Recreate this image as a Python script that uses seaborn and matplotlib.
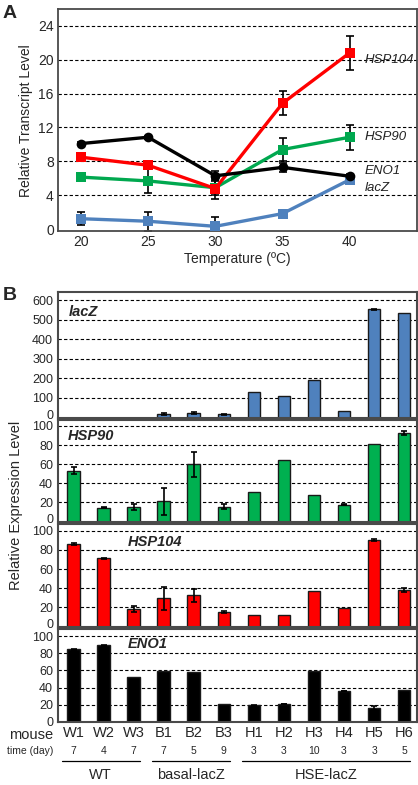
import matplotlib
matplotlib.use("Agg")
import matplotlib.pyplot as plt
import matplotlib.transforms as mtransforms
import seaborn as sns
import numpy as np
import pandas as pd

sns.set_style("white")
plt.rcParams['font.family'] = ['Liberation Sans', 'DejaVu Sans']

# ---- panel A data: transcript level vs temperature
temps = [20, 25, 30, 35, 40]
genes_a = ['lacZ', 'HSP90', 'HSP104', 'ENO1']
lacz_a = [1.25, 0.95, 0.35, 1.85, 5.85]
lacz_a_err = [0.8, 1.1, 1.1, 0.3, 0.3]
hsp90_a = [6.15, 5.7, 4.9, 9.4, 10.85]
hsp90_a_err = [0.3, 1.4, 0.9, 1.3, 1.45]
hsp104_a = [8.5, 7.55, 4.8, 14.85, 20.8]
hsp104_a_err = [0.3, 0.4, 1.2, 1.4, 2.0]
eno1_a = [10.1, 10.85, 6.3, 7.3, 6.25]
eno1_a_err = [0.2, 0.2, 0.6, 0.5, 0.3]

# ---- panel B data: expression per mouse
mice = ['W1', 'W2', 'W3', 'B1', 'B2', 'B3', 'H1', 'H2', 'H3', 'H4', 'H5', 'H6']
days = ['7', '4', '7', '7', '5', '9', '3', '3', '10', '3', '3', '5']
groups = ['WT', 'WT', 'WT', 'basal-lacZ', 'basal-lacZ', 'basal-lacZ',
          'HSE-lacZ', 'HSE-lacZ', 'HSE-lacZ', 'HSE-lacZ', 'HSE-lacZ', 'HSE-lacZ']
lacz_b = [0, 0, 0, 18, 22, 17, 129, 112, 191, 35, 553, 534]
lacz_b_err = [0, 0, 0, 4, 5, 3, 0, 0, 0, 0, 3, 0]
hsp90_b = [53, 14.5, 15, 21, 60, 15.5, 30.5, 64.5, 27.5, 17.5, 81, 93]
hsp90_b_err = [3.5, 0.5, 3, 14, 13, 2.5, 0, 0, 0, 0.5, 0, 2]
hsp104_b = [86, 71, 18, 29.5, 32.5, 15, 11.5, 11.5, 37, 19.5, 90.5, 38]
hsp104_b_err = [1, 0.5, 3, 12, 7, 1, 0, 0, 0, 0, 1, 2]
eno1_b = [84.5, 89, 52, 59.5, 58.5, 21, 19.5, 21, 59, 36, 16.5, 37.5]
eno1_b_err = [0.5, 0.5, 0, 0, 0, 0, 0.5, 0.5, 0, 0.5, 2, 0]

W, H = 418, 785
def rect(l, t, r, b):
    return [l / W, 1 - b / H, (r - l) / W, (b - t) / H]

fig = plt.figure(figsize=(W / 100, H / 100), dpi=100)
spine_col = '#4a4a4a'

# ================= panel A
axA = fig.add_axes(rect(58, 9.5, 417, 231))
line_cols = {'lacZ': '#4f81bd', 'HSP90': '#00a84f', 'HSP104': '#ff0000', 'ENO1': '#000000'}
markers = {'lacZ': 's', 'HSP90': 's', 'HSP104': 's', 'ENO1': 'o'}
vals_a = {'lacZ': lacz_a, 'HSP90': hsp90_a, 'HSP104': hsp104_a, 'ENO1': eno1_a}
errs_a = {'lacZ': lacz_a_err, 'HSP90': hsp90_a_err, 'HSP104': hsp104_a_err, 'ENO1': eno1_a_err}

dfA = pd.DataFrame({'temp': temps * 4,
                    'level': lacz_a + hsp90_a + hsp104_a + eno1_a,
                    'gene': sum([[g] * 5 for g in genes_a], [])})

for yv in range(4, 25, 4):
    axA.axhline(yv, color='black', lw=0.8, ls=(0, (3, 2)), zorder=0)

for g in genes_a:
    axA.errorbar(temps, vals_a[g], yerr=errs_a[g], fmt='none', ecolor='black',
                 elinewidth=1.2, capsize=3, capthick=1.2, zorder=2)
    sns.lineplot(data=dfA[dfA.gene == g], x='temp', y='level', color=line_cols[g],
                 marker=markers[g], markersize=7, markeredgewidth=0, lw=2.4,
                 ax=axA, zorder=3)

axA.set_xlim(18.3, 45)
axA.set_ylim(-0.2, 25.9)
axA.set_xticks(temps)
axA.set_yticks(range(0, 25, 4))
axA.tick_params(length=0, labelsize=10, pad=3)
axA.set_xlabel('Temperature (ºC)', fontsize=10, labelpad=2)
axA.set_ylabel('Relative Transcript Level', fontsize=10, labelpad=4)
for s in axA.spines.values():
    s.set_color(spine_col)
    s.set_linewidth(1.3)

label_pos = {'HSP104': 19.9, 'HSP90': 10.85, 'ENO1': 6.85, 'lacZ': 4.85}
for g, yv in label_pos.items():
    axA.text(41.1, yv, g, fontsize=9.5, style='italic', color='#222222', va='center')

fig.text(3 / W, 1 - 13 / H, 'A', fontsize=14, fontweight='bold', va='center')

# ================= panel B
panels = [
    ('lacZ', lacz_b, lacz_b_err, '#4f81bd', (292.3, 417.5), 640, 100, (0.029, 0.845)),
    ('HSP90', hsp90_b, hsp90_b_err, '#00b050', (419.5, 521.5), 106.7, 20, (0.028, 0.84)),
    ('HSP104', hsp104_b, hsp104_b_err, '#ff0000', (524.3, 626.5), 106.7, 20, (0.194, 0.83)),
    ('ENO1', eno1_b, eno1_b_err, '#000000', (629.3, 722), 107.8, 20, (0.195, 0.84)),
]
xpos = np.arange(len(mice))
axes_b = []
for name, vals, errs, col, (top, bot), ymax, step, (lx, ly) in panels:
    ax = fig.add_axes(rect(58, top, 417, bot))
    axes_b.append(ax)
    tick_vals = list(range(0, 101, 20)) if step == 20 else list(range(0, 601, 100))
    for yv in tick_vals[1:]:
        ax.axhline(yv, color='black', lw=0.8, ls=(0, (3, 2)), zorder=0)
    dfB = pd.DataFrame({'mouse': mice, 'value': vals})
    sns.barplot(data=dfB, x='mouse', y='value', color=col, saturation=1, width=0.42,
                edgecolor='#1a1a1a', linewidth=1.0, errorbar=None, ax=ax, zorder=2)
    e = np.array(errs, dtype=float)
    mask = e > 0
    ax.errorbar(xpos[mask], np.array(vals)[mask], yerr=e[mask], fmt='none',
                ecolor='black', elinewidth=1.2, capsize=2.5, capthick=1.2, zorder=3)
    ax.set_xlim(-0.52, 11.43)
    ax.set_ylim(0, ymax)
    ax.set_yticks(tick_vals)
    ax.tick_params(length=0, labelsize=9, pad=3.5)
    ax.set_xlabel('')
    ax.set_ylabel('')
    for s in ax.spines.values():
        s.set_color(spine_col)
        s.set_linewidth(1.5)
    ax.text(lx, ly, name, transform=ax.transAxes, fontsize=10.5, fontweight='bold',
            style='italic', va='center', ha='left')
    if name != 'ENO1':
        ax.set_xticklabels([])
        # lift the "0" label a little so it clears the panel below
        lab0 = ax.get_yticklabels()[0]
        lab0.set_transform(lab0.get_transform() +
                           mtransforms.ScaledTranslation(0, 2.5 / 72, fig.dpi_scale_trans))

axE = axes_b[-1]
axE.tick_params(axis='x', labelsize=10.5, pad=3)

trans = mtransforms.blended_transform_factory(axE.transData, fig.transFigure)
fig.text(53 / W, 1 - 735 / H, 'mouse', fontsize=10.5, ha='right', va='center')
fig.text(53 / W, 1 - 751 / H, 'time (day)', fontsize=7.5, ha='right', va='center')
for x, d in zip(xpos, days):
    axE.text(x, 1 - 751 / H, d, transform=trans, fontsize=7.5, ha='center', va='center')

for grp in ['WT', 'basal-lacZ', 'HSE-lacZ']:
    idx = [i for i, g in enumerate(groups) if g == grp]
    x0, x1 = idx[0] - 0.4, idx[-1] + 0.2
    axE.plot([x0, x1], [1 - 760.7 / H] * 2, color='black', lw=0.9,
             transform=trans, clip_on=False)
    axE.text((x0 + x1) / 2, 1 - 775 / H, grp, transform=trans, fontsize=10.5,
             ha='center', va='center')

fig.text(16 / W, 1 - 505 / H, 'Relative Expression Level', fontsize=10.5,
         rotation=90, ha='center', va='center')
fig.text(3 / W, 1 - 296 / H, 'B', fontsize=14, fontweight='bold', va='center')

fig.savefig('out.png', dpi=100)
